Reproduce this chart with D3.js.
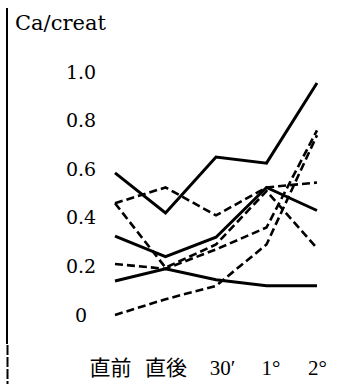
<!DOCTYPE html>
<html>
<head>
<meta charset="utf-8">
<script src="https://cdn.jsdelivr.net/npm/d3@7"></script>
<style>
  html, body { margin: 0; padding: 0; background: #fff; }
</style>
</head>
<body>
<div id="app"></div>
<script>
const timeLabels = ["直前", "直後", "30′", "1°", "2°"];
const yTicks = [0, 0.2, 0.4, 0.6, 0.8, 1.0];

// solid lines
const solid1 = [0.585, 0.42, 0.65, 0.625, 0.955];
const solid2 = [0.325, 0.24, 0.32, 0.525, 0.43];
const solid3 = [0.14, 0.19, 0.145, 0.12, 0.12];

// dashed lines
const dashedA = [0.46, 0.525, 0.41, 0.525, 0.545];
const dashedB = [0.46, 0.195, 0.29, 0.51, 0.275];
const dashedC = [0.21, 0.19, 0.27, 0.36, 0.76];
const dashedD = [0.0, 0.065, 0.12, 0.29, 0.74];

const width = 348;
const height = 384;

const svg = d3.select("#app").append("svg")
  .attr("width", width)
  .attr("height", height);

const x = d3.scalePoint().domain(timeLabels).range([115, 317]);
const y = d3.scaleLinear().domain([0, 1]).range([315, 72]);

// left vertical rule (slightly broken near the bottom, as in the scan)
svg.append("line")
  .attr("x1", 7).attr("x2", 7)
  .attr("y1", 8).attr("y2", 344)
  .attr("stroke", "#000").attr("stroke-width", 2);
svg.append("line")
  .attr("x1", 7.5).attr("x2", 7.5)
  .attr("y1", 345).attr("y2", height)
  .attr("stroke", "#000").attr("stroke-width", 2)
  .attr("stroke-dasharray", "10,2");

svg.append("text")
  .attr("x", 15)
  .attr("y", 30)
  .attr("font-family", "DejaVu Serif")
  .attr("font-size", 21)
  .text("Ca/creat");

// y tick labels
svg.selectAll(".ytick")
  .data(yTicks)
  .enter()
  .append("text")
  .attr("class", "ytick")
  .attr("x", 81)
  .attr("y", (d) => y(d))
  .attr("dy", "0.35em")
  .attr("text-anchor", "middle")
  .attr("font-family", "DejaVu Serif")
  .attr("font-size", 19)
  .text((d) => (d === 0 ? "0" : d3.format(".1f")(d)));

// x labels
const xAxis = svg.append("g")
  .attr("transform", "translate(0, 368)")
  .call(d3.axisBottom(x).tickSize(0).tickPadding(0));
xAxis.select(".domain").remove();
xAxis.selectAll("text")
  .attr("y", 0)
  .attr("dy", "0.35em")
  .attr("dx", (d, i) => (i === 0 ? -5 : i === 2 ? 6 : i === 3 ? 4 : 0))
  .attr("font-family", "'Liberation Serif', 'Noto Sans CJK JP'")
  .attr("font-size", (d) => (/[\u4e00-\u9fff]/.test(d) ? 21 : 21))
  .attr("fill", "#000");

const line = d3.line()
  .x((d, i) => x(timeLabels[i]))
  .y((d) => y(d));

const series = [
  { values: dashedA, dashed: true },
  { values: dashedB, dashed: true },
  { values: dashedC, dashed: true },
  { values: dashedD, dashed: true },
  { values: solid1, dashed: false },
  { values: solid2, dashed: false },
  { values: solid3, dashed: false },
];

svg.selectAll(".series")
  .data(series)
  .enter()
  .append("path")
  .attr("class", "series")
  .attr("d", (d) => line(d.values))
  .attr("fill", "none")
  .attr("stroke", "#000")
  .attr("stroke-width", (d) => (d.dashed ? 2.6 : 3))
  .attr("stroke-linejoin", "miter")
  .attr("stroke-dasharray", (d) => (d.dashed ? "8,4" : null));
</script>
</body>
</html>
